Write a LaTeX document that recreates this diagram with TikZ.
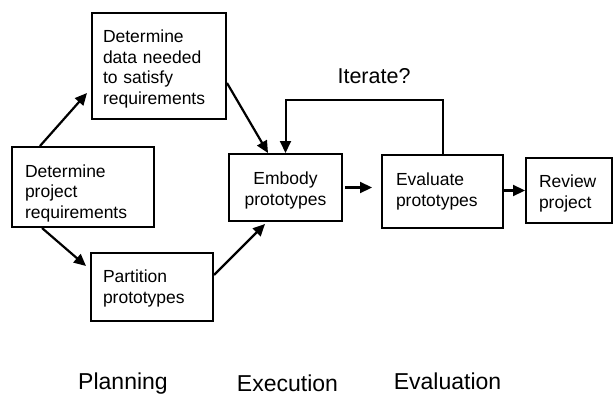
\documentclass[tikz,border=0pt]{standalone}
\usepackage{fontspec}
\setmainfont{Liberation Sans}
\usetikzlibrary{arrows.meta,calc}
\newcommand{\topstrut}[1]{\rule{0pt}{#1pt}}
\newcommand{\botstrut}{\rule[-4pt]{0pt}{4pt}}
\begin{document}
\begin{tikzpicture}[x=1pt,y=-1pt,
  box/.style={draw=black,line width=2pt,rectangle,inner ysep=0pt,
    font=\fontsize{17.5}{20.5}\selectfont,align=left},
  conn/.style={line width=2.2pt,-{Triangle[length=12pt,width=11pt]}},
  phase/.style={font=\fontsize{23}{27}\selectfont,anchor=base},
  ]
\useasboundingbox (0,0) rectangle (613,396);
\node[box,minimum width=134pt,minimum height=106pt,inner xsep=11pt,text width=112pt] (data) at (159,66)
  {\topstrut{19.5}Determine\\data needed\\to satisfy\\requirements\botstrut};
\node[box,minimum width=142pt,minimum height=80pt,inner xsep=13pt,text width=116pt] (proj) at (83,187)
  {\topstrut{25}Determine\\project\\requirements\botstrut};
\node[box,minimum width=122pt,minimum height=68pt,inner xsep=12pt,text width=98pt] (part) at (152,287)
  {\topstrut{16}Partition\\prototypes\botstrut};
\node[box,minimum width=113pt,minimum height=67pt,inner xsep=6pt,text width=101pt,align=center] (emb) at (285.5,187.5)
  {\topstrut{19}Embody\\prototypes\botstrut};
\node[box,minimum width=121pt,minimum height=73pt,inner xsep=14pt,text width=93pt] (eval) at (442.5,191.5)
  {\topstrut{13}Evaluate\\prototypes\botstrut};
\node[box,minimum width=86pt,minimum height=65pt,inner xsep=13pt,text width=60pt] (rev) at (569,190.5)
  {\topstrut{19}Review\\project\botstrut};
\node[font=\fontsize{21.5}{25}\selectfont,anchor=base] (iter) at (374,83) {Iterate?};
\node[phase] (plan) at (123,389.5) {Planning};
\node[phase] (exec) at (287.5,391) {Execution};
\node[phase] (evl) at (447.5,389.5) {Evaluation};
\draw[conn] ([xshift=-43pt]proj.north) -- ([xshift=-4pt,yshift=-27pt]data.west);
\draw[conn] ([yshift=-17pt]data.east) -- ([xshift=-17.5pt]emb.north);
\draw[conn] ([xshift=-41pt]proj.south) -- ([xshift=-4pt,yshift=21pt]part.west);
\draw[conn] ([yshift=12pt]part.east) -- ([xshift=-20.5pt,yshift=-2pt]emb.south);
\draw[conn] ([xshift=2pt]emb.east) -- ($(eval.west |- emb.east)+(-9pt,0pt)$);
\draw[conn] (eval.east |- rev.west) -- (rev.west);
\draw[conn,line width=2pt] (eval.north) -- ++(0pt,54pt) -| (emb.north);
\end{tikzpicture}
\end{document}
